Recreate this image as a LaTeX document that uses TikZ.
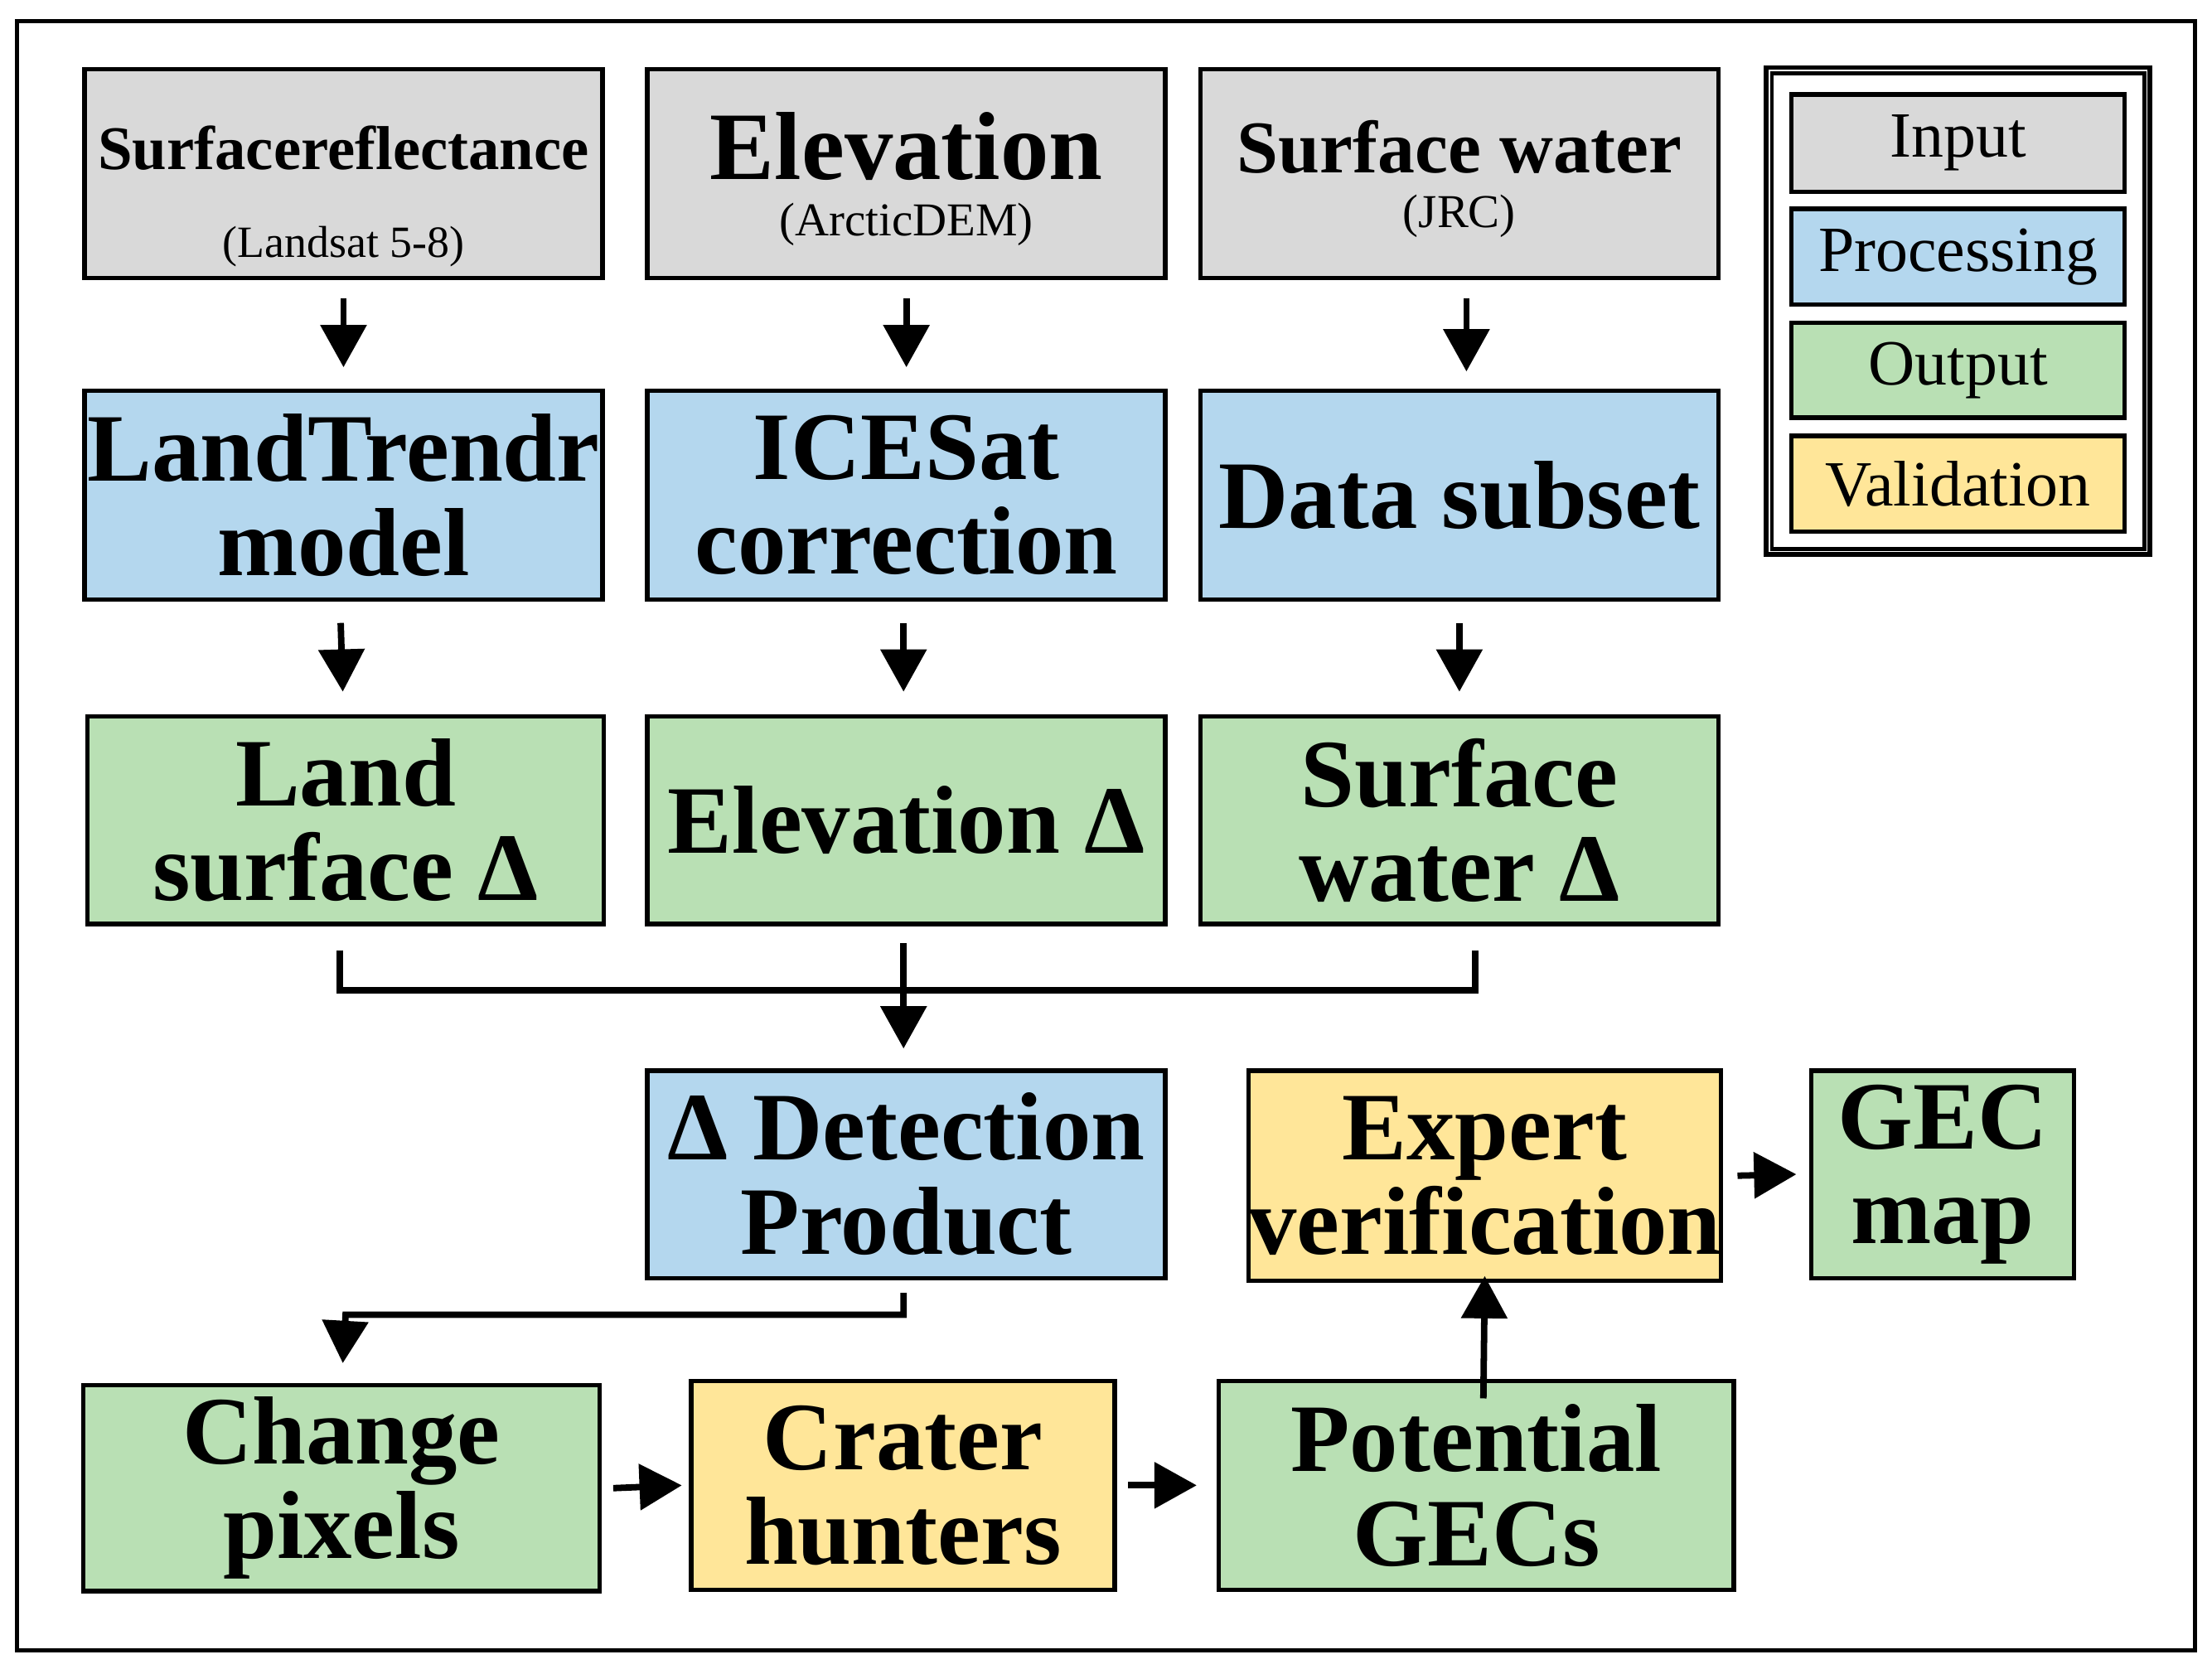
\documentclass[tikz,border=0pt]{standalone}
\usepackage{fontspec}
\setmainfont{Liberation Serif}
\usetikzlibrary{arrows.meta}
\definecolor{cin}{HTML}{D9D9D9}
\definecolor{cpro}{HTML}{B4D7EE}
\definecolor{cout}{HTML}{B9E0B4}
\definecolor{cval}{HTML}{FFE699}
\begin{document}
\begin{tikzpicture}[x=0.01cm,y=-0.01cm,
  box/.style={draw=black,line width=0.9pt,inner sep=0pt,align=center},
  big/.style={font=\bfseries\fontsize{19.5}{19}\selectfont},
  mid/.style={font=\bfseries\fontsize{12.5}{14}\selectfont},
  leg/.style={font=\fontsize{13}{15}\selectfont},
  arr/.style={line width=1.3pt,-{Triangle[length=0.3cm,width=0.32cm]}},
  ln/.style={line width=1.3pt}]
\useasboundingbox (0,0) rectangle (1568,1183);
\draw[line width=0.8pt] (12,15) rectangle (1556,1170);
% row 1: inputs
\node[box,fill=cin,minimum width=3.67cm,minimum height=1.48cm] (sr) at (243.5,123) {};
\node[mid] at (243.5,105) {Surface\\reflectance};
\node[font=\fontsize{9}{10}\selectfont] at (243.5,175) {(Landsat 5-8)};
\node[box,fill=cin,minimum width=3.67cm,minimum height=1.48cm] (el) at (642.5,123) {};
\node[big] at (642.5,104) {Elevation};
\node[font=\fontsize{9.5}{10}\selectfont] at (642.5,159) {(ArcticDEM)};
\node[box,fill=cin,minimum width=3.67cm,minimum height=1.48cm] (sw) at (1034.5,123) {};
\node[font=\bfseries\fontsize{15}{16}\selectfont] at (1034.5,104) {Surface water};
\node[font=\fontsize{9.5}{10}\selectfont] at (1034.5,153) {(JRC)};
% row 2: processing
\node[box,big,fill=cpro,minimum width=3.67cm,minimum height=1.48cm] (lt) at (243.5,351) {LandTrendr\\model};
\node[box,big,fill=cpro,minimum width=3.67cm,minimum height=1.48cm] (ic) at (642.5,351) {ICESat\\correction};
\node[box,big,fill=cpro,minimum width=3.67cm,minimum height=1.48cm] (ds) at (1034.5,351) {Data subset};
% row 3: outputs
\node[box,big,fill=cout,minimum width=3.66cm,minimum height=1.47cm] (ls) at (245,581.5) {Land\\surface Δ};
\node[box,big,fill=cout,minimum width=3.67cm,minimum height=1.47cm] (ec) at (642.5,581.5) {Elevation Δ};
\node[box,big,fill=cout,minimum width=3.67cm,minimum height=1.47cm] (wc) at (1034.5,581.5) {Surface\\water Δ};
% detection
\node[box,big,fill=cpro,minimum width=3.67cm,minimum height=1.47cm] (dp) at (642.5,832.5) {Δ Detection\\Product};
\node[box,big,fill=cval,minimum width=3.25cm,minimum height=1.49cm] (ev) at (1052.5,833.5) {Expert\\verification};
\node[box,big,fill=cout,minimum width=1.86cm,minimum height=1.47cm] (gm) at (1377,832.5) {GEC\\map};
% bottom row
\node[box,big,fill=cout,minimum width=3.66cm,minimum height=1.46cm] (cp) at (242,1055) {Change\\pixels};
\node[box,big,fill=cval,minimum width=3.00cm,minimum height=1.48cm] (ch) at (640,1053) {Crater\\hunters};
\node[box,big,fill=cout,minimum width=3.65cm,minimum height=1.48cm] (pg) at (1046.5,1053) {Potential\\GECs};
% legend
\draw[line width=0.9pt] (1252,48) rectangle (1524,393);
\draw[line width=0.8pt] (1256,52) rectangle (1520,389);
\node[box,leg,fill=cin,minimum width=2.36cm,minimum height=0.69cm] (li) at (1388,101.5) {Input};
\node[box,leg,fill=cpro,minimum width=2.36cm,minimum height=0.68cm] (lp) at (1388,182) {Processing};
\node[box,leg,fill=cout,minimum width=2.36cm,minimum height=0.67cm] (lo) at (1388,262.5) {Output};
\node[box,leg,fill=cval,minimum width=2.36cm,minimum height=0.68cm] (lv) at (1388,343) {Validation};
% arrows
\coordinate (m) at (640,702);
\draw[arr] ([yshift=-0.13cm]sr.south) -- ([yshift=0.15cm]lt.north);
\draw[arr] ([yshift=-0.13cm]el.south) -- ([yshift=0.15cm]ic.north);
\draw[arr] ([xshift=0.05cm,yshift=-0.13cm]sw.south) -- ([xshift=0.05cm,yshift=0.12cm]ds.north);
\draw[arr] ([xshift=-0.02cm,yshift=-0.15cm]lt.south) -- ([xshift=-0.02cm,yshift=0.16cm]ls.north);
\draw[arr] ([xshift=-0.02cm,yshift=-0.15cm]ic.south) -- ([xshift=-0.02cm,yshift=0.16cm]ec.north);
\draw[arr] ([yshift=-0.15cm]ds.south) -- ([yshift=0.16cm]wc.north);
\draw[ln] ([xshift=-0.04cm,yshift=-0.17cm]ls.south) |- (m) -| ([xshift=0.11cm,yshift=-0.17cm]wc.south);
\draw[arr] ([xshift=-0.02cm,yshift=-0.12cm]ec.south) -- ([xshift=-0.02cm,yshift=0.14cm]dp.north);
\draw[arr] ([xshift=-0.02cm,yshift=-0.09cm]dp.south) |- (245,932) -- ([xshift=0.01cm,yshift=0.14cm]cp.north);
\draw[arr] ([xshift=0.08cm]cp.east) -- ([xshift=-0.05cm]ch.west);
\draw[arr] ([xshift=0.08cm]ch.east) -- ([xshift=-0.14cm]pg.west);
\draw[arr] ([xshift=0.05cm,yshift=-0.14cm]pg.north) -- ([yshift=0.05cm]ev.south);
\draw[arr] ([xshift=0.10cm]ev.east) -- ([xshift=-0.09cm]gm.west);
\end{tikzpicture}
\end{document}
